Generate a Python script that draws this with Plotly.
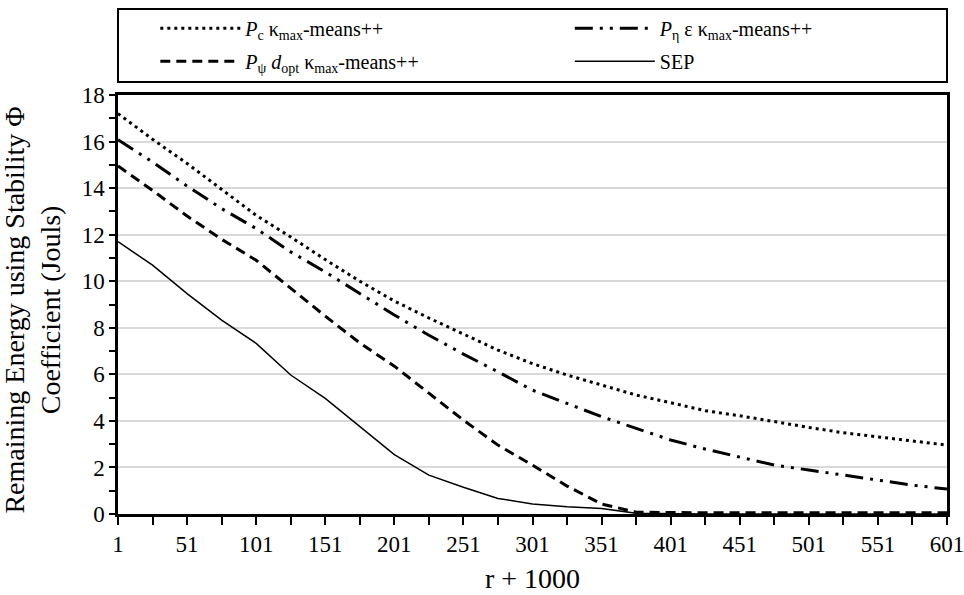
import plotly.graph_objects as go

x_vals = [1, 26, 51, 76, 101, 126, 151, 176, 201, 226, 251, 276, 301,
          326, 351, 376, 401, 426, 451, 476, 501, 526, 551, 576, 601]

pc_kmax = [17.2, 16.1, 15.06, 13.96, 12.83, 11.9, 10.93, 10.0, 9.15, 8.42, 7.74, 7.04, 6.46,
           5.97, 5.54, 5.11, 4.78, 4.44, 4.22, 3.96, 3.72, 3.49, 3.32, 3.13, 2.96]
peta_kmax = [16.08, 15.12, 14.09, 13.12, 12.26, 11.26, 10.4, 9.47, 8.55, 7.68, 6.87, 6.11, 5.32,
             4.75, 4.18, 3.68, 3.18, 2.79, 2.43, 2.1, 1.89, 1.67, 1.46, 1.24, 1.07]
ppsi_kmax = [14.95, 13.9, 12.8, 11.8, 10.9, 9.7, 8.5, 7.35, 6.35, 5.19, 4.03, 2.96, 2.1,
             1.2, 0.43, 0.08, 0.05, 0.05, 0.05, 0.05, 0.05, 0.05, 0.05, 0.05, 0.05]
sep = [11.7, 10.69, 9.47, 8.33, 7.33, 5.97, 4.97, 3.75, 2.55, 1.67, 1.15, 0.67, 0.43,
       0.31, 0.24, 0.03, 0.0, 0.0, 0.0, 0.0, 0.0, 0.0, 0.0, 0.0, 0.0]

x_tickvals = [1, 51, 101, 151, 201, 251, 301, 351, 401, 451, 501, 551, 601]
y_tickvals = [0, 2, 4, 6, 8, 10, 12, 14, 16, 18]

names = {
    "pc": "<i>P</i><sub>c</sub> κ<sub>max</sub>-means++",
    "peta": "<i>P</i><sub>η</sub> ε κ<sub>max</sub>-means++",
    "ppsi": "<i>P</i><sub>ψ</sub> <i>d</i><sub>opt</sub> κ<sub>max</sub>-means++",
    "sep": "SEP",
}
y_title = "Remaining Energy using Stability Φ<br>Coefficient (Jouls)"
x_title = "r + 1000"

FONT = "Liberation Serif, Times New Roman, serif"
fig = go.Figure()
fig.add_trace(go.Scatter(x=x_vals, y=pc_kmax, mode="lines", name=names["pc"], legendgroup="a",
                         line=dict(color="black", width=3, dash="3px,4px"), legend="legend"))
fig.add_trace(go.Scatter(x=x_vals, y=ppsi_kmax, mode="lines", name=names["ppsi"], legendgroup="b",
                         line=dict(color="black", width=3, dash="10px,6px"), legend="legend"))
fig.add_trace(go.Scatter(x=x_vals, y=peta_kmax, mode="lines", name=names["peta"], legendgroup="c",
                         line=dict(color="black", width=3, dash="18px,7px,3px,7px,3px,7px"),
                         legend="legend2"))
fig.add_trace(go.Scatter(x=x_vals, y=sep, mode="lines", name=names["sep"], legendgroup="d",
                         line=dict(color="black", width=1.5), legend="legend2"))

fig.add_shape(type="rect", xref="paper", yref="paper", x0=0, x1=1.0, y0=1.031, y1=1.205,
              line=dict(color="black", width=2), fillcolor="rgba(0,0,0,0)")

fig.add_annotation(text=y_title, xref="paper", yref="paper", x=-0.103, y=0.487,
                   xanchor="center", yanchor="middle", textangle=-90, showarrow=False,
                   font=dict(family=FONT, size=28, color="black"))
fig.add_annotation(text=x_title, xref="paper", yref="paper", x=0.5, y=-0.155,
                   xanchor="center", yanchor="middle", showarrow=False,
                   font=dict(family=FONT, size=28, color="black"))

legend_common = dict(font=dict(family=FONT, size=20, color="black"),
                     bgcolor="rgba(0,0,0,0)", borderwidth=0, yanchor="top",
                     xanchor="left", tracegroupgap=4, itemwidth=80)

fig.update_layout(
    width=964, height=595,
    margin=dict(l=118, r=17, t=95, b=81, autoexpand=False),
    paper_bgcolor="white", plot_bgcolor="white",
    font=dict(family=FONT, size=23, color="black"),
    showlegend=True,
    legend=dict(x=0.045, y=1.206, **legend_common),
    legend2=dict(x=0.545, y=1.206, **legend_common),
    xaxis=dict(range=[1, 601], tickvals=x_tickvals, ticktext=[str(v) for v in x_tickvals],
               ticks="outside", ticklen=8, tickwidth=2, tickcolor="black",
               minor=dict(tick0=1, dtick=25, ticks="outside", ticklen=8, tickwidth=2, tickcolor="black"),
               showline=True, linecolor="black", linewidth=2.5, mirror=True,
               showgrid=False, zeroline=False, ticklabeloverflow="allow",
               tickfont=dict(family=FONT, size=23)),
    yaxis=dict(range=[0, 18], tickvals=y_tickvals,
               ticks="outside", ticklen=6, tickwidth=2, tickcolor="black",
               minor=dict(tick0=0, dtick=1, ticks="outside", ticklen=6, tickwidth=2, tickcolor="black"),
               showline=True, linecolor="black", linewidth=2.5, mirror=True,
               showgrid=True, gridcolor="#d9d9d9", gridwidth=2, zeroline=False,
               tickfont=dict(family=FONT, size=23)),
)

fig.write_html("out.html", config={"displayModeBar": False},
               post_script="document.body.style.margin='0';")
